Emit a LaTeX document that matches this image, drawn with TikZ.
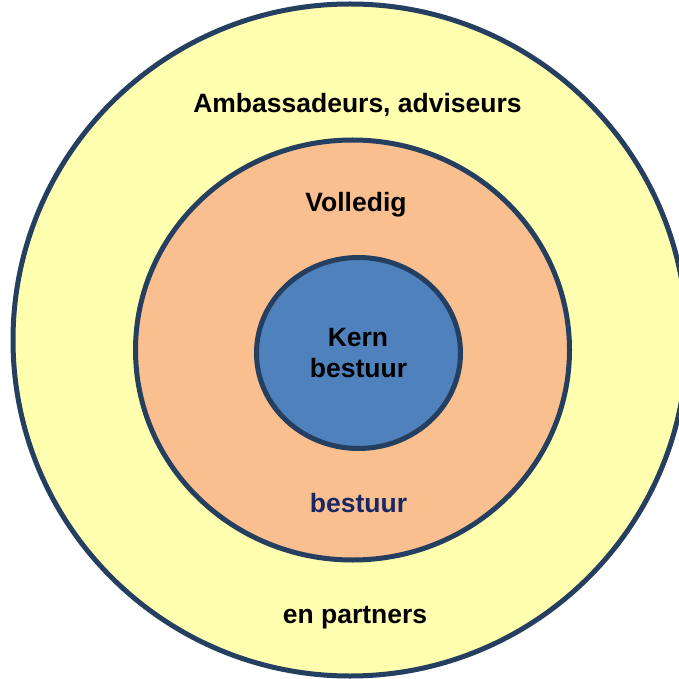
\documentclass[tikz,border=0pt]{standalone}
\usepackage{fontspec}
\setmainfont{Liberation Sans}
\definecolor{ringline}{HTML}{243F60}
\definecolor{outerfill}{HTML}{FFFFAF}
\definecolor{midfill}{HTML}{F9BF8F}
\definecolor{innerfill}{HTML}{4F81BD}
\definecolor{navytext}{RGB}{23,40,100}
\tikzset{
  ring/.style={draw=ringline, line width=5pt},
  lbl/.style={font=\fontsize{26.5pt}{31pt}\selectfont\bfseries, anchor=base, inner sep=0pt, align=center},
}
\begin{document}
\begin{tikzpicture}[x=1pt,y=1pt]
\useasboundingbox (0,0) rectangle (679,678);
\fill[white] (0,0) rectangle (679,678);
\draw[ring, fill=outerfill] (350,338) ellipse [x radius=337, y radius=336];
\draw[ring, fill=midfill] (352.5,328) ellipse [x radius=217, y radius=210];
\draw[ring, fill=innerfill] (358.5,325) ellipse [x radius=102, y radius=95.5];
\node[lbl] (amb) at (357.5,565) {Ambassadeurs, adviseurs};
\node[lbl] (partners) at (355,55) {en partners};
\node[lbl] (vol) at (356,466) {Volledig};
\node[lbl, text=navytext] (best) at (358.5,166) {bestuur};
\node[lbl] (kern) at (358,332) {Kern};
\node[lbl] (kernb) at (358.5,301) {bestuur};
\end{tikzpicture}
\end{document}
